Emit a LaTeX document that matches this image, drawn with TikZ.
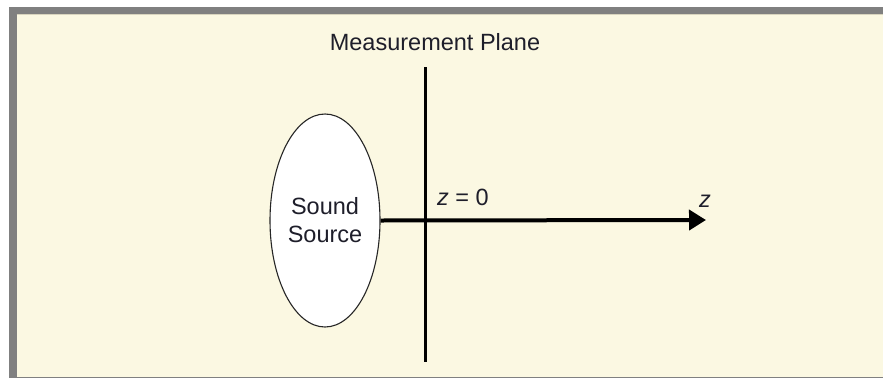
\documentclass[tikz,border=0pt]{standalone}
\usepackage{fontspec}
\setmainfont{Liberation Sans}
\usetikzlibrary{arrows.meta,shapes.geometric}
\definecolor{cream}{HTML}{FBF8E2}
\definecolor{framegray}{HTML}{808080}
\definecolor{tanline}{HTML}{D8D4BE}
\definecolor{textcol}{HTML}{1E1E2A}
\tikzset{
  lbl/.style={font=\fontsize{23.5}{29}\selectfont, text=textcol, inner sep=0pt},
  srcshape/.style={ellipse, draw=black!85, line width=1.1pt, fill=white,
    minimum width=110pt, minimum height=213pt, inner sep=0pt, align=center,
    font=\fontsize{23.5}{29}\selectfont, text=textcol},
  plane/.style={line width=3.5pt, black},
  axis/.style={line width=4pt, black, -{Triangle[length=17pt,width=20pt]}}
}
\begin{document}
\begin{tikzpicture}[x=1pt,y=-1pt]
\useasboundingbox (0,0) rectangle (883,378);
\fill[white] (0,0) rectangle (883,378);
\fill[framegray] (9,6.5) rectangle (883,378);
\fill[cream] (16.5,14.5) rectangle (883,376.5);
\draw[tanline, line width=1pt] (16.5,14.8) -- (883,14.8);

\coordinate (ptop) at (425.7,67);
\coordinate (pbot) at (425.7,362);
\draw[plane] (ptop) -- (pbot);

\node[srcshape] (src) at (325,220.5) {Sound\\[-1pt]Source};
\coordinate (ztip) at (706,220);
\draw[axis] (src.east) -- (ztip);

\node[lbl, anchor=base] (mp) at (435,50) {Measurement Plane};
\node[lbl, anchor=base west] (z0) at (437,205) {\textit{z} = 0};
\node[lbl, anchor=base west] (zl) at (699,207) {\textit{z}};
\end{tikzpicture}
\end{document}
